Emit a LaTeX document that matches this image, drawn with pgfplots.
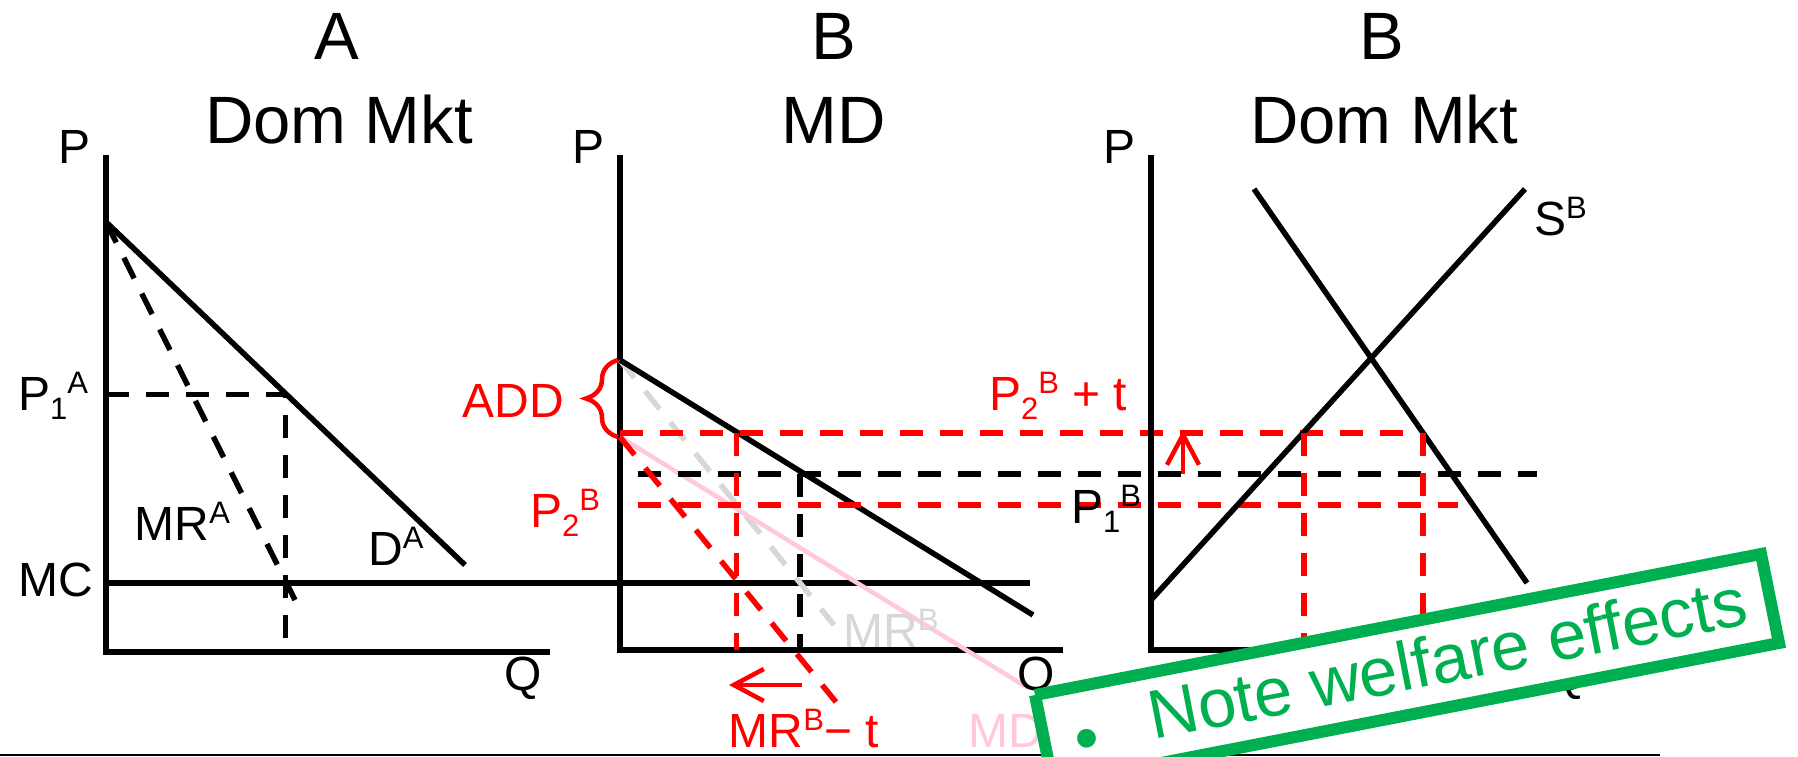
\documentclass[border=0pt]{standalone}
\usepackage{fontspec}
\setmainfont{Liberation Sans}
\usepackage{pgfplots}
\pgfplotsset{compat=1.18}
\usetikzlibrary{arrows.meta,decorations.pathreplacing}
\definecolor{gr}{RGB}{0,176,80}
\definecolor{lgray}{RGB}{215,215,215}
\definecolor{pnk}{RGB}{255,200,220}
\newcommand\lbl{\fontsize{48}{56}\selectfont}
\newcommand\ttl{\fontsize{67}{80}\selectfont}
\newcommand\su[1]{\raisebox{17pt}{\fontsize{31}{31}\selectfont #1}}
\newcommand\sbs[1]{\raisebox{-9pt}{\fontsize{31}{31}\selectfont #1}}
\tikzset{lb/.style={inner sep=0pt, font=\lbl}, tt/.style={inner sep=0pt, font=\ttl}}
\begin{document}
\begin{tikzpicture}
\path[use as bounding box] (0,0) rectangle (1798pt,757pt);
\begin{axis}[
  at={(0,0)}, anchor=south west,
  scale only axis, width=1798pt, height=757pt,
  xmin=0, xmax=1798, ymin=0, ymax=757, y dir=reverse,
  hide axis, clip=true,
  blk/.style={black, line width=5.5pt},
  dsh/.style={dash pattern=on 23pt off 17pt},
]
% bottom frame line
\addplot[black, line width=2.5pt] coordinates {(0,755) (1660,755)};
% ---------- Panel A ----------
\addplot[blk] coordinates {(106,155) (106,652) (550,652)};
\addplot[blk] coordinates {(106,583) (1030,583)};           % MC
\addplot[blk] coordinates {(106,222) (465,565)};            % D^A
\addplot[blk, dsh] coordinates {(106,222) (295,600)};       % MR^A
\addplot[blk, dsh] coordinates {(106,394.5) (285.5,394.5) (285.5,652)};
% ---------- Panel B ----------
\addplot[blk] coordinates {(620,155) (620,650) (1063,650)};
\addplot[lgray, line width=5.5pt, dsh] coordinates {(620,360) (834,625)}; % MR^B
\addplot[pnk, line width=4.5pt] coordinates {(620,437) (1028,688)};      % MD
\addplot[blk] coordinates {(620,360) (1033,615)};           % D (MD)
\addplot[blk, dsh] coordinates {(637.5,474) (1537,474)};    % P1B
\addplot[blk, dsh] coordinates {(800,474) (800,650)};
\addplot[red, line width=5.5pt, dsh] coordinates {(620,437) (836,702)};  % MR^B - t
\addplot[red, line width=5.5pt, dsh] coordinates {(620,433) (1425,433)}; % P2B + t
\addplot[red, line width=5.5pt, dsh] coordinates {(637.5,505) (1458,505)}; % P2B
\addplot[red, line width=5.5pt, dsh] coordinates {(736.4,433) (736.4,650)};
\addplot[red, line width=4.5pt, -{Straight Barb[length=30pt,width=32pt]}] coordinates {(802,685) (729,685)};
\draw[red, line width=4.5pt, decorate, decoration={brace, amplitude=32pt}] (618,437) -- (618,360);
% ---------- Panel C ----------
\addplot[blk] coordinates {(1151,155) (1151,650) (1595,650)};
\addplot[blk] coordinates {(1151,600) (1525,189)};          % S^B
\addplot[blk] coordinates {(1254,189) (1527,583)};          % D^B
\addplot[red, line width=5.5pt, dsh] coordinates {(1304,433) (1304,650)};
\addplot[red, line width=5.5pt, dsh] coordinates {(1423,433) (1423,650)};
\addplot[red, line width=4.5pt, -{Straight Barb[length=30pt,width=32pt]}] coordinates {(1183,474) (1183,430)};
% ---------- titles ----------
\node[tt, anchor=base] at (337,60) {A};
\node[tt, anchor=base] at (339,143) {Dom Mkt};
\node[tt, anchor=base] at (834,60) {B};
\node[tt, anchor=base] at (834,143) {MD};
\node[tt, anchor=base] at (1382,60) {B};
\node[tt, anchor=base] at (1384,143) {Dom Mkt};
% ---------- labels ----------
\node[lb, anchor=base] at (75,164) {P};
\node[lb, anchor=base] at (588,164) {P};
\node[lb, anchor=base] at (1119,163) {P};
\node[lb, anchor=base west] at (18,410) {P\sbs{1}\su{A}};
\node[lb, anchor=base west] at (18,596) {MC};
\node[lb, anchor=base west] at (134.5,540) {MR\su{A}};
\node[lb, anchor=base west] at (368,565) {D\su{A}};
\node[lb, anchor=base] at (523,690) {Q};
\node[lb, anchor=base] at (1036,690) {Q};
\node[lb, anchor=base] at (1568,690) {Q};
\node[lb, anchor=base east, text=red] at (564,417) {ADD};
\node[lb, anchor=base west, text=red] at (530,527) {P\sbs{2}\su{B}};
\node[lb, anchor=base west, text=red] at (989,410) {P\sbs{2}\su{B} + t};
\node[lb, anchor=base west] at (1071,523) {P\sbs{1}\su{B}};
\node[lb, anchor=base west, text=lgray] at (843,647) {MR\su{B}};
\node[lb, anchor=base west, text=red] at (728.6,747) {MR\su{B}− t};
\node[lb, anchor=base west, text=pnk] at (968,747) {MD};
\node[lb, anchor=base west] at (1534,235) {S\su{B}};
% ---------- green note box ----------
\addplot[draw=gr, fill=white, line width=12pt, line join=miter] coordinates {(1035,695) (1761,554) (1779,643) (1053,784) (1035,695)};
\node[inner sep=0pt, anchor=base west, rotate=11, text=gr, font=\fontsize{69}{80}\selectfont] at (1153,740) {Note welfare effects};
\node[inner sep=0pt, anchor=base, rotate=11, text=gr, font=\fontsize{69}{80}\selectfont] at (1091,761) {•};
\end{axis}
\end{tikzpicture}
\end{document}
